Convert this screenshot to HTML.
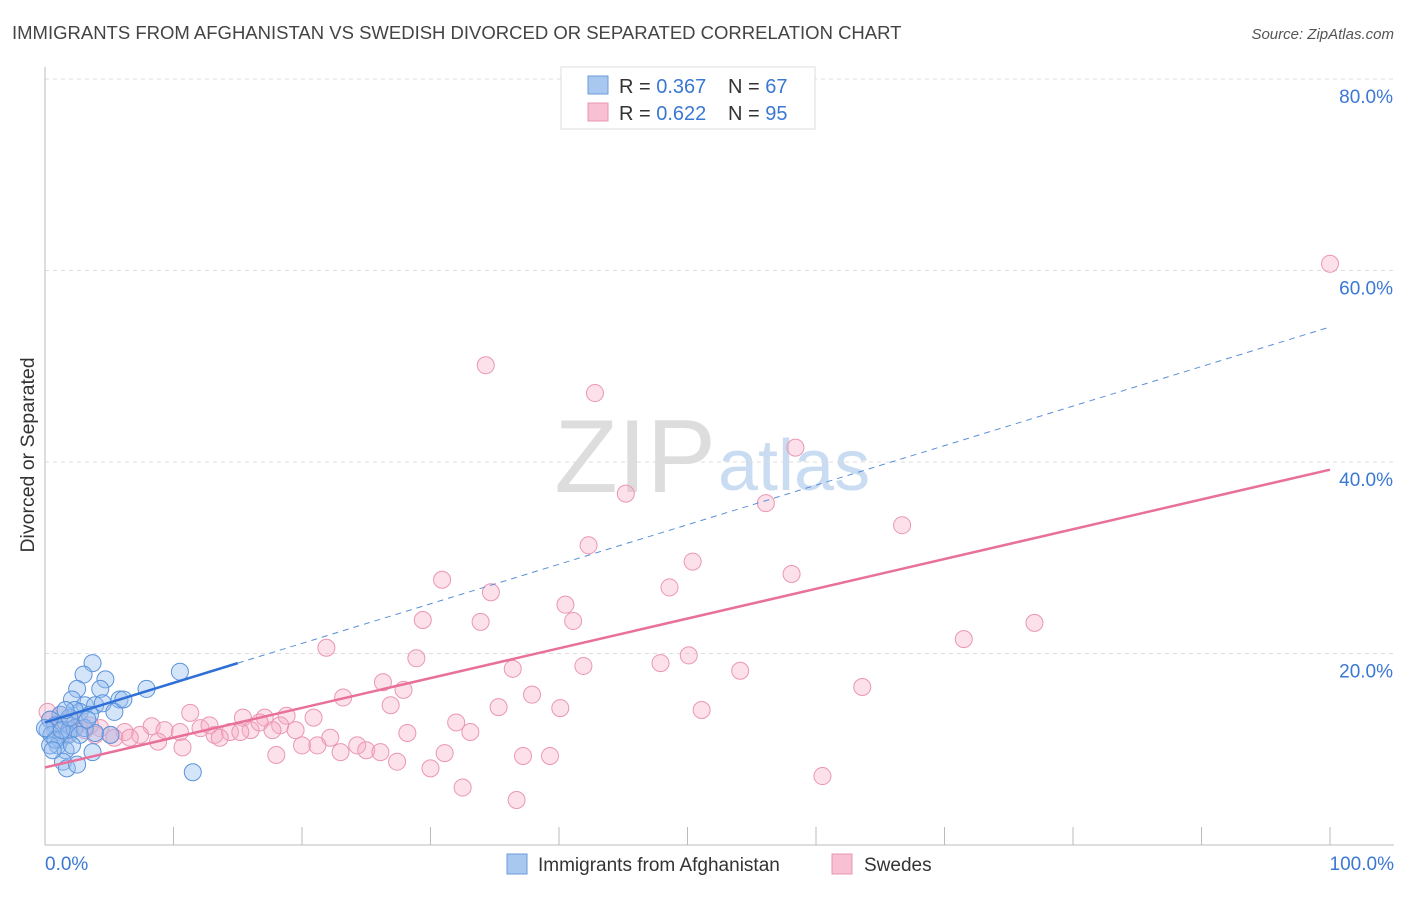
<!DOCTYPE html>
<html><head><meta charset="utf-8">
<style>
body{margin:0;background:#fff;font-family:"Liberation Sans",sans-serif;}
svg text{font-family:"Liberation Sans",sans-serif;}
</style></head>
<body>
<svg id="chart" width="1406" height="892">
<text x="12" y="39" font-size="18.5" fill="#444">IMMIGRANTS FROM AFGHANISTAN VS SWEDISH DIVORCED OR SEPARATED CORRELATION CHART</text>
<text x="1394" y="39" font-size="15" fill="#555" text-anchor="end" font-style="italic">Source: ZipAtlas.com</text>
<text x="34" y="455" font-size="19.5" fill="#333" text-anchor="middle" transform="rotate(-90 34 455)">Divorced or Separated</text>
<text x="716" y="492" font-size="104" fill="#ddd" text-anchor="end" font-family="Liberation Serif">ZIP</text>
<text x="718" y="490" font-size="72" fill="#c9dcf2">atlas</text>
<g id="grid"></g><g id="axes"></g><g id="pink"></g><g id="blue"></g><g id="lines"></g>
<g>
<rect x="561" y="67" width="254" height="62" fill="#fff" stroke="#ddd"/>
<rect x="588" y="76" width="20" height="18" fill="#a9c8f0" stroke="#6b9bd8"/>
<rect x="588" y="103" width="20" height="18" fill="#f8c0d2" stroke="#e796b2"/>
<text x="619" y="93" font-size="20" fill="#333">R = <tspan fill="#3a78d4">0.367</tspan></text>
<text x="728" y="93" font-size="20" fill="#333">N = <tspan fill="#3a78d4">67</tspan></text>
<text x="619" y="120" font-size="20" fill="#333">R = <tspan fill="#3a78d4">0.622</tspan></text>
<text x="728" y="120" font-size="20" fill="#333">N = <tspan fill="#3a78d4">95</tspan></text>
</g>
<g>
<rect x="507" y="854" width="20" height="20" fill="#a9c8f0" stroke="#6b9bd8"/>
<text x="538" y="871" font-size="19" fill="#333">Immigrants from Afghanistan</text>
<rect x="832" y="854" width="20" height="20" fill="#f8c0d2" stroke="#e796b2"/>
<text x="864" y="871" font-size="19" fill="#333">Swedes</text>
</g>
</svg>
<script>
const yTicks=[20,40,60,80];
const xTickLabels=["0.0%","100.0%"];
const blueX=[3.7,3.0,4.7,2.5,4.3,10.5,7.9,5.8,2.1,3.1,3.9,4.5,2.7,3.5,2.3,1.2,0.4,0.8,1.6,1.9,0.2,0.5,1.2,1.8,2.3,3.1,3.9,5.1,1.0,1.6,0.4,3.7,1.4,1.7,2.5,11.5,0.8,1.3,1.9,3.3,0.0,2.7,5.4,6.1,0.6,2.1,1.6];
const blueY=[19.0,17.8,17.3,16.3,16.3,18.1,16.3,15.2,15.2,14.6,14.6,14.8,13.9,13.6,14.1,13.6,13.1,12.5,12.8,12.0,12.0,11.5,11.0,11.5,12.2,12.2,11.7,11.5,10.4,9.9,10.4,9.7,8.7,8.0,8.4,7.6,11.0,12.0,13.3,13.1,12.2,11.5,13.9,15.2,9.9,10.4,14.1];
const pinkX=[100,34.3,42.8,58.4,45.2,56.1,66.7,42.3,50.4,58.1,30.9,34.7,48.6,40.5,29.4,33.9,41.1,71.5,77.0,21.9,28.9,36.4,41.9,47.9,50.1,54.1,26.3,27.9,63.6,23.2,37.9,26.9,35.3,40.1,51.1,18.8,20.9,32.0,11.3,15.4,17.1,33.1,28.2,22.2,20.0,21.2,24.3,25.0,26.1,23.0,31.1,18.0,27.4,30.0,37.2,39.3,32.5,36.7,60.5,8.3,9.3,10.5,12.1,13.2,14.4,16.0,16.7,18.3,19.5,7.4,6.2,5.1,4.3,3.5,2.7,1.9,1.2,0.4,0.8,1.6,2.3,3.1,3.9,5.4,6.6,8.8,10.7,13.6,15.2,12.8,17.7,1.2,0.2];
const pinkY=[60.7,50.1,47.2,41.5,36.7,35.7,33.4,31.3,29.6,28.3,27.7,26.4,26.9,25.1,23.5,23.3,23.4,21.5,23.2,20.6,19.5,18.4,18.7,19.0,19.8,18.2,17.0,16.2,16.5,15.4,15.7,14.6,14.4,14.3,14.1,13.5,13.3,12.8,13.8,13.3,13.3,11.8,11.7,11.2,10.4,10.4,10.4,9.9,9.7,9.7,9.6,9.4,8.7,8.0,9.3,9.3,6.0,4.7,7.2,12.4,12.0,11.8,12.2,11.5,11.8,12.0,12.8,12.5,12.0,11.5,11.8,11.5,12.2,12.5,12.8,13.1,12.5,13.1,12.0,11.5,12.2,12.0,11.5,11.2,11.2,10.8,10.2,11.2,11.8,12.5,12.0,13.6,13.9];
const blueTrend=[12.8,54.1];
const blueSolidEnd=15;
const pinkTrend=[8.1,39.2];
const X0=45,X1=1330,Y0=845,YPX=9.575;
const sx=v=>X0+(X1-X0)*v/100;
const sy=v=>Y0-v*YPX;
const NS="http://www.w3.org/2000/svg";
function mk(tag,attrs,parent){const e=document.createElementNS(NS,tag);for(const k in attrs)e.setAttribute(k,attrs[k]);document.getElementById(parent).appendChild(e);return e;}
yTicks.forEach(t=>{
 const l=mk('line',{x1:X0,x2:1394,y1:sy(t),y2:sy(t),stroke:'#ddd','stroke-dasharray':'4,4'},'grid');
 
 
 const tx=mk('text',{x:1393,y:sy(t)+24,'font-size':19,fill:'#3a78d4','text-anchor':'end'},'grid');
 tx.textContent=t.toFixed(1)+'%';
 
 
});
const ax=mk('line',{x1:X0,x2:1394,y1:Y0,y2:Y0,stroke:'#bbb'},'axes');


const ay=mk('line',{x1:X0,x2:X0,y1:67,y2:Y0,stroke:'#bbb'},'axes');


for(let i=0;i<=10;i++){
 const t=mk('line',{x1:sx(i*10),x2:sx(i*10),y1:Y0,y2:Y0-18,stroke:'#bbb'},'axes');
 
 
}
xTickLabels.forEach((s,i)=>{
 const t=mk('text',{x:i?1394:45,y:870,'font-size':19,fill:'#3a78d4','text-anchor':i?'end':'start'},'axes');
 t.textContent=s;
 
 
});
pinkX.forEach((v,i)=>{
 const c=mk('circle',{cx:sx(v),cy:sy(pinkY[i]),r:8.5,fill:'rgba(246,170,196,0.35)',stroke:'#eb96b3','stroke-width':1},'pink');
 
 
});
blueX.forEach((v,i)=>{
 const c=mk('circle',{cx:sx(v),cy:sy(blueY[i]),r:8.5,fill:'rgba(150,190,240,0.4)',stroke:'#5b93db','stroke-width':1},'blue');
 
 
});
const by=x=>blueTrend[0]+(blueTrend[1]-blueTrend[0])*x/100;
const pl=mk('line',{x1:sx(0),y1:sy(pinkTrend[0]),x2:sx(100),y2:sy(pinkTrend[1]),stroke:'#e8709a','stroke-width':2.5},'lines');


const bd=mk('line',{x1:sx(blueSolidEnd),y1:sy(by(blueSolidEnd)),x2:sx(100),y2:sy(by(100)),stroke:'#5b8fd8','stroke-width':1,'stroke-dasharray':'6,5'},'lines');


const bl=mk('line',{x1:sx(0),y1:sy(by(0)),x2:sx(blueSolidEnd),y2:sy(by(blueSolidEnd)),stroke:'#2f6fd6','stroke-width':2.5},'lines');


</script>
</body></html>
